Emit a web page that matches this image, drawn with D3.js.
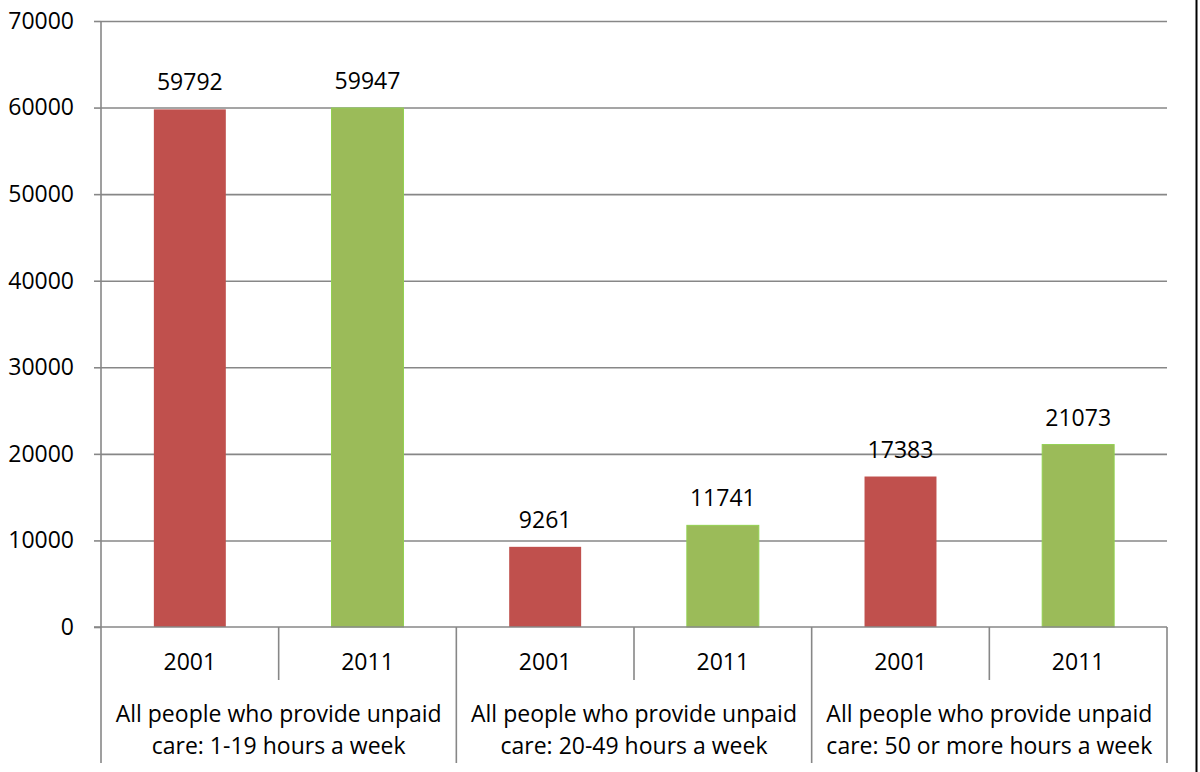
<!DOCTYPE html>
<html><head><meta charset="utf-8">
<script src="https://cdn.jsdelivr.net/npm/d3@7"></script>
<style>
html,body{margin:0;padding:0;background:#fff;}
svg{display:block;font-family:"Open Sans",sans-serif;}
</style></head>
<body>
<svg id="chart" width="1200" height="772"></svg>
<script>
const groups = [
  ["All people who provide unpaid", "care: 1-19 hours a week"],
  ["All people who provide unpaid", "care: 20-49 hours a week"],
  ["All people who provide unpaid", "care: 50 or more hours a week"]
];
const years = ["2001", "2011"];
const values2001 = [59792, 9261, 17383];
const values2011 = [59947, 11741, 21073];
const yTicks = [0, 10000, 20000, 30000, 40000, 50000, 60000, 70000];
const colors = {"2001": "#C0504D", "2011": "#9BBB59"};

(function(){
const svg = d3.select("#chart");
const pLeft = 101, pRight = 1167, pTop = 21, pBottom = 627;
const fs = 23;

const y = d3.scaleLinear().domain([0, 70000]).range([pBottom, pTop]);
const gx = d3.scaleBand().domain(d3.range(groups.length)).range([pLeft, pRight]).padding(0);
const yx = d3.scaleBand().domain(years).range([0, gx.bandwidth()]).padding(0);
const barW = yx.bandwidth() * 0.405;

// gridlines
const grid = svg.append("g").attr("transform", `translate(${pLeft},0)`)
  .call(d3.axisLeft(y).tickValues(yTicks.filter(d => d > 0)).tickSize(-(pRight - pLeft)).tickFormat(""));
grid.select(".domain").remove();
grid.selectAll("line").attr("stroke", "#878787").attr("stroke-width", 1.6);

// y axis
const ya = svg.append("g").attr("transform", `translate(${pLeft},0)`)
  .call(d3.axisLeft(y).tickValues(yTicks).tickSize(7).tickPadding(20).tickFormat(d3.format("d")));
ya.select(".domain").attr("stroke", "#878787").attr("stroke-width", 1.6)
  .attr("d", `M0,${pTop}V${772 - 9}`);
ya.selectAll("line").attr("stroke", "#878787").attr("stroke-width", 1.6);
ya.selectAll("text").attr("font-size", fs).attr("fill", "#000").attr("font-family", "Open Sans");

// data rows
const rows = [];
groups.forEach((g, i) => {
  rows.push({g: i, year: "2001", v: values2001[i]});
  rows.push({g: i, year: "2011", v: values2011[i]});
});

// bars
svg.append("g").selectAll("rect").data(rows).join("rect")
  .attr("x", d => gx(d.g) + yx(d.year) + (yx.bandwidth() - barW) / 2)
  .attr("y", d => y(d.v))
  .attr("width", barW)
  .attr("height", d => y(0) - y(d.v))
  .attr("fill", d => colors[d.year])
  .attr("stroke", d => d.year === "2011" ? "#92D050" : "none")
  .attr("stroke-width", 1);

// labels
svg.append("g").selectAll("text").data(rows).join("text")
  .attr("x", d => gx(d.g) + yx(d.year) + yx.bandwidth() / 2)
  .attr("y", d => y(d.v) - 19)
  .attr("text-anchor", "middle")
  .attr("font-size", fs)
  .text(d => d.v);

// x axis line
svg.append("line").attr("x1", pLeft - 7).attr("x2", pRight).attr("y1", pBottom).attr("y2", pBottom)
  .attr("stroke", "#878787").attr("stroke-width", 1.6);

const xa = svg.append("g");
rows.forEach(d => {
  const x0 = gx(d.g) + yx(d.year);
  xa.append("text").attr("x", x0 + yx.bandwidth() / 2).attr("y", 670)
    .attr("text-anchor", "middle").attr("font-size", fs).text(d.year);
  if (d.year === "2011") {
    xa.append("line").attr("x1", x0).attr("x2", x0).attr("y1", pBottom).attr("y2", 680)
      .attr("stroke", "#878787").attr("stroke-width", 1.6);
  }
});
d3.range(1, groups.length + 1).forEach(i => {
  const x = i < groups.length ? gx(i) : pRight;
  xa.append("line").attr("x1", x).attr("x2", x).attr("y1", pBottom).attr("y2", 763)
    .attr("stroke", "#878787").attr("stroke-width", 1.6);
});
groups.forEach((g, i) => {
  const cx = gx(i) + gx.bandwidth() / 2;
  const t = xa.append("text").attr("text-anchor", "middle").attr("font-size", fs);
  t.append("tspan").attr("x", cx).attr("y", 722).text(g[0]);
  t.append("tspan").attr("x", cx).attr("y", 754).text(g[1]);
});

svg.append("line").attr("x1", 1196.5).attr("x2", 1196.5).attr("y1", 0).attr("y2", 772)
  .attr("stroke", "#000").attr("stroke-width", 2);
})();
</script>
</body></html>
